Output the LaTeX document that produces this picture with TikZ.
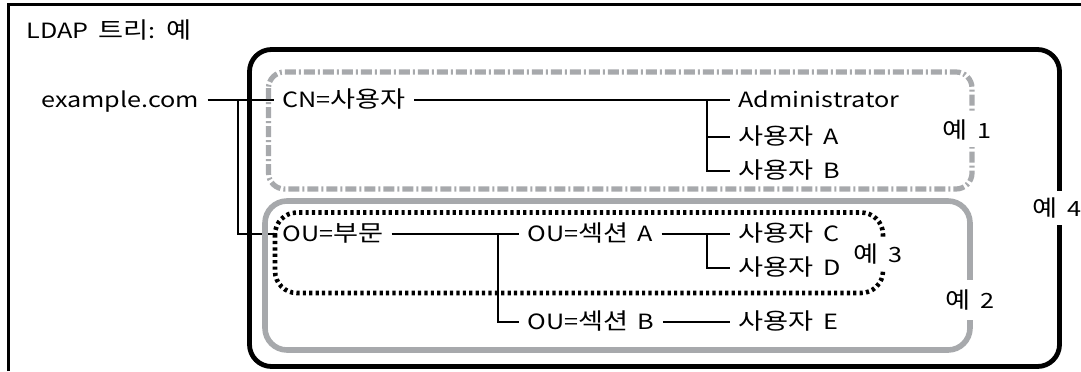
\documentclass[tikz,border=0pt]{standalone}
\usepackage{fontspec}
\setmainfont{Noto Sans CJK KR}[FakeStretch=1.2, WordSpace=1.7]
\newfontfamily\hgfont{Noto Sans CJK KR}[Scale=1.08, FakeStretch=1.2, WordSpace=1.7]
\newcommand\hg[1]{{\hgfont #1}}
\definecolor{boxgray}{HTML}{A7A9AC}

\begin{document}
\begin{tikzpicture}[
  x=0.5pt, y=-0.5pt,
  every node/.style={font=\fontsize{10.5}{12.6}\selectfont},
  lbl/.style={anchor=west, inner xsep=4pt, inner ysep=0pt, text height=8.2pt, text depth=0.5pt},
  tag/.style={fill=white, inner xsep=1.5pt, inner ysep=3.2pt},
  conn/.style={line width=0.6pt},
]
\useasboundingbox (0,0) rectangle (1081,371);
% outer frame, cut off at the right and bottom
\draw[line width=1.25pt] (8.5,371) |- (1081,4.5);
\node[anchor=west, inner sep=0pt] (title) at (26,30) {LDAP \hg{트리}: \hg{예}};
% name / left x of text / row y / text
\foreach \nm/\x/\y/\t in {
  ex/41/100/example.com, cn/282/100/CN=\hg{사용자}, adm/738/100/Administrator,
  ua/738/137/\hg{사용자} A, ub/738/171/\hg{사용자} B,
  ou/282/234/OU=\hg{부문}, secA/527/234/OU=\hg{섹션} A, uc/738/234/\hg{사용자} C,
  ud/738/268/\hg{사용자} D, secB/527/322/OU=\hg{섹션} B, ue/738/322/\hg{사용자} E}
  \node[lbl, xshift=-4pt] (\nm) at (\x,\y) {\t};
% branch points
\coordinate (j0) at (238,100);
\coordinate (j1) at (707,100);
\coordinate (j2) at (498,234);
\coordinate (j3) at (707,234);
\draw[conn] (ex.east) -- (cn.west);
\draw[conn] (j0) |- (ou.west);
\draw[conn] (cn.east) -- (adm.west);
\draw[conn] (j1) |- (ua.west);
\draw[conn] (j1) |- (ub.west);
\draw[conn] (ou.east) -- (secA.west);
\draw[conn] (j2) |- (secB.west);
\draw[conn] (secA.east) -- (uc.west);
\draw[conn] (j3) |- (ud.west);
\draw[conn] (secB.east) -- (ue.west);
% example groups
\draw[line width=2.4pt, rounded corners=11pt] (249.5,49.5) rectangle (1059.5,366.5);
\draw[boxgray, line width=2.6pt, rounded corners=8pt,
  dash pattern=on 5.5pt off 1.5pt on 1pt off 1.5pt] (268.5,72) rectangle (972,189);
\draw[boxgray, line width=2.8pt, rounded corners=11pt] (265,201) rectangle (970,350);
\draw[line width=2.3pt, rounded corners=11pt,
  dash pattern=on 1.6pt off 1.6pt] (275,212.5) rectangle (883,293);
\node[tag] (t1) at (967,130) {\hg{예} 1};
\node[tag, inner ysep=5pt] (t2) at (970,300) {\hg{예} 2};
\node[tag] (t3) at (878,254) {\hg{예} 3};
\node[tag] (t4) at (1057,208) {\hg{예} 4};
\end{tikzpicture}
\end{document}
